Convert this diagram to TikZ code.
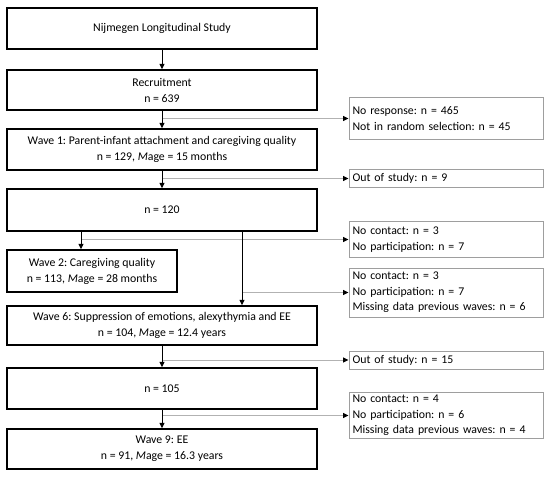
\documentclass[tikz,border=0pt]{standalone}
\usepackage{fontspec}
\setmainfont{Carlito}
\frenchspacing
\usetikzlibrary{arrows.meta}
\begin{document}
\begin{tikzpicture}[x=1pt,y=-1pt,
  mainbox/.style={draw=black, line width=1.4pt, minimum width=310pt, align=center,
    font=\fontsize{11.8}{16}\selectfont, inner sep=0pt},
  sidebox/.style={draw=black!38, line width=0.9pt, minimum width=194pt, text width=187pt,
    inner xsep=3.5pt, inner ysep=0pt, align=left, font=\fontsize{11.8}{15.5}\selectfont},
  flow/.style={line width=0.9pt, -{Triangle[length=5.5pt,width=5pt]}},
  side/.style={draw=black!30, line width=0.9pt, -{Triangle[length=5.5pt,width=5pt,color=black]}}
]
\useasboundingbox (0,0) rectangle (550,478);
% main column
\node[mainbox, minimum height=41pt] (b1) at (162,28.5) {Nijmegen Longitudinal Study};
\node[mainbox, minimum height=40pt] (b2) at (162,90) {Recruitment\\n = 639};
\node[mainbox, minimum height=41pt] (b3) at (162,149.5) {Wave 1: Parent-infant attachment and caregiving quality\\n = 129, \textit{M}age = 15 months};
\node[mainbox, minimum height=42pt] (b4) at (162,210) {n = 120};
\node[mainbox, minimum height=42pt, minimum width=170pt] (w2) at (92,271) {Wave 2: Caregiving quality\\n = 113, \textit{M}age = 28 months};
\node[mainbox, minimum height=39pt] (w6) at (162,325.5) {Wave 6: Suppression of emotions, alexythymia and EE\\n = 104, \textit{M}age = 12.4 years};
\node[mainbox, minimum height=41pt] (b5) at (162,388.5) {n = 105};
\node[mainbox, minimum height=40pt] (w9) at (162,449) {Wave 9: EE\\n = 91, \textit{M}age = 16.3 years};
% side boxes
\node[sidebox, minimum height=42pt] (r1) at (446,118.5) {No response: n = 465\\Not in random selection: n = 45};
\node[sidebox, minimum height=18pt] (r2) at (446,178.5) {Out of study: n = 9};
\node[sidebox, minimum height=36pt] (r3) at (446,239.5) {No contact: n = 3\\No participation: n = 7};
\node[sidebox, minimum height=49pt] (r4) at (446,292.5) {No contact: n = 3\\No participation: n = 7\\Missing data previous waves: n = 6};
\node[sidebox, minimum height=18pt] (r5) at (446,360) {Out of study: n = 15};
\node[sidebox, minimum height=46pt] (r6) at (446,415.5) {No contact: n = 4\\No participation: n = 6\\Missing data previous waves: n = 4};
% split points under n = 120
\coordinate (s2) at (81,231);
\coordinate (s6) at (242,231);
% side lines
\draw[side] (b2.south |- r1.west) -- (r1.west);
\draw[side] (b3.south |- r2.west) -- (r2.west);
\draw[side] (s2 |- r3.west) -- (r3.west);
\draw[side] (s6 |- r4.west) -- (r4.west);
\draw[side] (w6.south |- r5.west) -- (r5.west);
\draw[side] (b5.south |- r6.west) -- (r6.west);
% main arrows
\draw[flow] (b1.south) -- (b2.north);
\draw[flow] (b2.south) -- (b3.north);
\draw[flow] (b3.south) -- (b4.north);
\draw[flow] (s2) -- (s2 |- w2.north);
\draw[flow] (s6) -- (s6 |- w6.north);
\draw[flow] (w6.south) -- (b5.north);
\draw[flow] (b5.south) -- (w9.north);
\end{tikzpicture}
\end{document}
